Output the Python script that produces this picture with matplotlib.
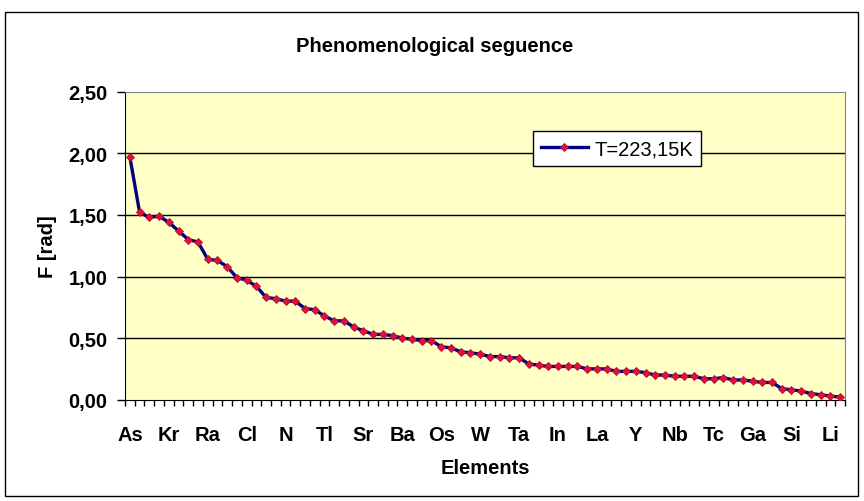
import matplotlib.pyplot as plt
import numpy as np
from matplotlib.patches import Rectangle

plt.rcParams['font.family'] = ['Liberation Sans', 'DejaVu Sans']

# phenomenological sequence values, one per element (only every 4th is labelled)
F_values = [1.97, 1.52, 1.48, 1.49, 1.44, 1.37, 1.30, 1.28, 1.14, 1.13,
            1.08, 0.99, 0.97, 0.92, 0.83, 0.82, 0.80, 0.80, 0.74, 0.73,
            0.68, 0.64, 0.64, 0.59, 0.56, 0.53, 0.53, 0.52, 0.50, 0.49,
            0.48, 0.48, 0.43, 0.42, 0.39, 0.38, 0.37, 0.35, 0.35, 0.34,
            0.34, 0.29, 0.28, 0.27, 0.27, 0.27, 0.27, 0.25, 0.25, 0.25,
            0.23, 0.23, 0.23, 0.22, 0.20, 0.20, 0.19, 0.19, 0.19, 0.17,
            0.17, 0.18, 0.16, 0.16, 0.15, 0.14, 0.14, 0.09, 0.08, 0.07,
            0.05, 0.04, 0.03, 0.02]
shown_labels = ['As', 'Kr', 'Ra', 'Cl', 'N', 'Tl', 'Sr', 'Ba', 'Os', 'W',
                'Ta', 'In', 'La', 'Y', 'Nb', 'Tc', 'Ga', 'Si', 'Li']
label_step = 4
y_ticks = [0.0, 0.5, 1.0, 1.5, 2.0, 2.5]
series_name = 'T=223,15K'

n = len(F_values)
x = np.arange(n)
fs = 14.5

fig = plt.figure(figsize=(8.64, 5.02), dpi=100)
fig.patches.append(Rectangle((0.006, 0.01), 0.987, 0.965, transform=fig.transFigure,
                             fill=False, edgecolor='black', linewidth=1.0))
ax = fig.add_axes([0.1447, 0.2018, 0.8333, 0.6135])
ax.set_facecolor('#FFFFC6')

for yv in y_ticks[1:-1]:
    ax.axhline(yv, color='black', linewidth=1.0, zorder=1)

ax.plot(x, F_values, color='#000080', linewidth=2.4, marker='D', markersize=4.4,
        markerfacecolor='#E0103A', markeredgecolor='#B0102A', markeredgewidth=0.6,
        label=series_name, zorder=3)

ax.set_xlim(-0.5, n - 0.5)
ax.set_ylim(0, 2.5)

ax.set_xticks(x[::label_step])
ax.set_xticklabels(shown_labels, fontsize=fs, fontweight='bold')
ax.set_xticks(np.arange(-0.5, n, 1.0), minor=True)
ax.tick_params(axis='x', which='major', length=0, pad=18)
ax.tick_params(axis='x', which='minor', length=4.3, width=1, direction='out')

ax.set_yticks(y_ticks)
ax.set_yticklabels([('%.2f' % v).replace('.', ',') for v in y_ticks],
                   fontsize=fs, fontweight='bold')
ax.tick_params(axis='y', length=5.5, width=1, direction='out', pad=7)

for side in ['top', 'right']:
    ax.spines[side].set_color('#808080')
for side in ['left', 'bottom']:
    ax.spines[side].set_color('black')

ax.set_xlabel('Elements', fontsize=fs, fontweight='bold', labelpad=10)
ax.set_ylabel('F [rad]', fontsize=fs, fontweight='bold', labelpad=8)
fig.text(0.503, 0.908, 'Phenomenological seguence', ha='center', va='center',
         fontsize=fs, fontweight='bold')

leg = ax.legend(loc='upper left', bbox_to_anchor=(0.553, 0.905), fontsize=fs,
                frameon=True, fancybox=False, edgecolor='black', framealpha=1,
                handlelength=2.3, borderpad=0.4, handletextpad=0.35)
leg.get_frame().set_linewidth(1.0)

fig.savefig('out.png', dpi=100)
